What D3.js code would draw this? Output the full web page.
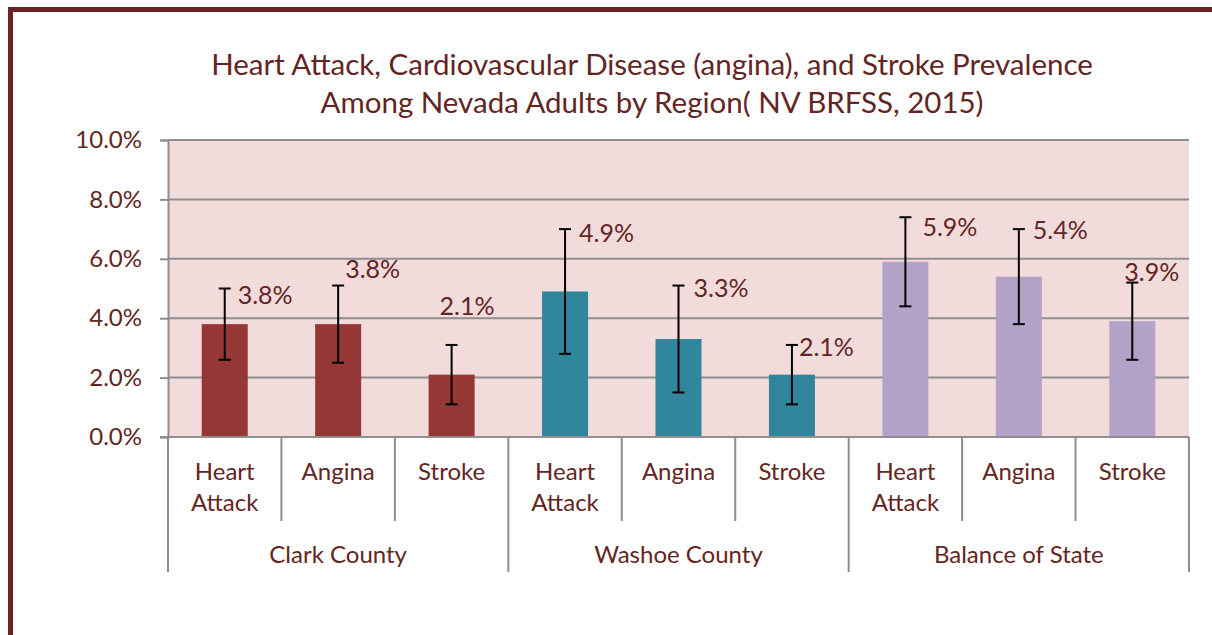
<!DOCTYPE html>
<html>
<head>
<meta charset="utf-8">
<script src="https://cdn.jsdelivr.net/npm/d3@7"></script>
<style>
  html, body { margin: 0; padding: 0; background: #fff; }
  svg { display: block; font-family: Lato, "Open Sans", sans-serif; }
</style>
</head>
<body>
<svg id="chart" width="1212" height="635"></svg>
<script>
// ---- data ----
const regions = ["Clark County", "Washoe County", "Balance of State"];
const conditions = ["Heart Attack", "Angina", "Stroke"];
const regionColors = ["#953735", "#31859C", "#B3A2C7"];
const clarkValues   = [3.8, 3.8, 2.1];
const washoeValues  = [4.9, 3.3, 2.1];
const balanceValues = [5.9, 5.4, 3.9];
const clarkLow   = [2.6, 2.5, 1.1];
const clarkHigh  = [5.0, 5.1, 3.1];
const washoeLow  = [2.8, 1.5, 1.1];
const washoeHigh = [7.0, 5.1, 3.1];
const balanceLow  = [4.4, 3.8, 2.6];
const balanceHigh = [7.4, 7.0, 5.2];
const yTicks = [0, 2, 4, 6, 8, 10];
const titleLines = ["Heart Attack, Cardiovascular Disease (angina), and Stroke Prevalence",
                    "Among Nevada Adults by Region( NV BRFSS, 2015)"];

// label placement (manually placed in the original): x offset px from bar centre, y in data units
const labelPlacement = [
  [13, 4.78], [7, 5.66], [-12, 4.41],
  [14, 6.85], [15, 5.02], [7, 3.03],
  [17, 7.07], [14, 6.97], [-8, 5.56]
];

const valuesByRegion = [clarkValues, washoeValues, balanceValues];
const lowByRegion = [clarkLow, washoeLow, balanceLow];
const highByRegion = [clarkHigh, washoeHigh, balanceHigh];
const rows = [];
regions.forEach((r, ri) => conditions.forEach((c, ci) => {
  rows.push({ key: r + "|" + c, region: r, ri, cond: c,
    value: valuesByRegion[ri][ci], lo: lowByRegion[ri][ci], hi: highByRegion[ri][ci] });
}));

// ---- layout ----
const textCol = "#632523";
const gridCol = "#8e8e8e";
const pLeft = 168, pRight = 1189, pTop = 140, pBottom = 437;

const svg = d3.select("#chart");

// frame
svg.append("path")
  .attr("d", "M10.5,640 L10.5,9.5 L1215,9.5")
  .attr("fill", "none").attr("stroke", "#6b2222").attr("stroke-width", 5);

const x = d3.scaleBand().domain(rows.map(d => d.key)).range([pLeft, pRight]).paddingInner(0).paddingOuter(0);
const y = d3.scaleLinear().domain([0, 10]).range([pBottom, pTop]);
const barW = 46;

// plot background
svg.append("rect").attr("x", pLeft).attr("y", pTop).attr("width", pRight - pLeft).attr("height", pBottom - pTop)
  .attr("fill", "#F2DCDB");

// gridlines + y ticks
const yAxis = d3.axisLeft(y).tickValues(yTicks).tickSize(8).tickFormat(d => d.toFixed(1) + "%");
const gy = svg.append("g").attr("transform", `translate(${pLeft},0)`).call(yAxis);
gy.select(".domain").attr("stroke", gridCol).attr("stroke-width", 2);
gy.selectAll(".tick line").attr("stroke", gridCol).attr("stroke-width", 2);
gy.selectAll(".tick text").attr("fill", textCol).style("font-size", "24px").attr("x", -26)
  .style("font-family", "Lato, sans-serif");
svg.append("g").selectAll("line").data(yTicks.filter(t => t > 0)).join("line")
  .attr("x1", pLeft).attr("x2", pRight).attr("y1", d => y(d)).attr("y2", d => y(d))
  .attr("stroke", gridCol).attr("stroke-width", 2);

// bars
svg.append("g").selectAll("rect").data(rows).join("rect")
  .attr("x", d => x(d.key) + x.bandwidth() / 2 - barW / 2)
  .attr("width", barW)
  .attr("y", d => y(d.value))
  .attr("height", d => y(0) - y(d.value))
  .attr("fill", d => regionColors[d.ri]);

// x axis base line
svg.append("line").attr("x1", pLeft - 8).attr("x2", pRight).attr("y1", pBottom).attr("y2", pBottom)
  .attr("stroke", gridCol).attr("stroke-width", 2);

// error bars
const eb = svg.append("g").attr("stroke", "#000").attr("stroke-width", 2);
rows.forEach(d => {
  const cx = x(d.key) + x.bandwidth() / 2;
  eb.append("line").attr("x1", cx).attr("x2", cx).attr("y1", y(d.lo)).attr("y2", y(d.hi));
  eb.append("line").attr("x1", cx - 6).attr("x2", cx + 6).attr("y1", y(d.lo)).attr("y2", y(d.lo));
  eb.append("line").attr("x1", cx - 6).attr("x2", cx + 6).attr("y1", y(d.hi)).attr("y2", y(d.hi));
});

// value labels
svg.append("g").selectAll("text").data(rows).join("text")
  .attr("x", (d, i) => x(d.key) + x.bandwidth() / 2 + labelPlacement[i][0])
  .attr("y", (d, i) => y(labelPlacement[i][1]))
  .attr("dy", "0.35em")
  .attr("fill", textCol).style("font-size", "25px")
  .text(d => d.value.toFixed(1) + "%");

// category dividers
const bounds = rows.map(d => x(d.key)).concat([pRight]);
svg.append("g").selectAll("line").data(bounds).join("line")
  .attr("x1", d => d).attr("x2", d => d)
  .attr("y1", pBottom).attr("y2", (d, i) => (i % 3 === 0) ? 572 : 521)
  .attr("stroke", gridCol).attr("stroke-width", 2);

// category labels
const catG = svg.append("g").attr("fill", textCol).style("font-size", "24px").attr("text-anchor", "middle");
rows.forEach(d => {
  const cx = x(d.key) + x.bandwidth() / 2;
  const words = d.cond === "Heart Attack" ? ["Heart", "Attack"] : [d.cond];
  words.forEach((w, k) => {
    catG.append("text").attr("x", cx).attr("y", 472 + k * 31).attr("dy", "0.35em").text(w);
  });
});

// region labels
const regW = (pRight - pLeft) / regions.length;
svg.append("g").selectAll("text").data(regions).join("text")
  .attr("x", (d, i) => pLeft + regW * (i + 0.5)).attr("y", 555).attr("dy", "0.35em")
  .attr("text-anchor", "middle").attr("fill", textCol).style("font-size", "24px")
  .text(d => d);

// title
svg.append("g").selectAll("text").data(titleLines).join("text")
  .attr("x", 652).attr("y", (d, i) => 65 + i * 38).attr("dy", "0.35em")
  .attr("text-anchor", "middle").attr("fill", textCol).style("font-size", "29.5px")
  .text(d => d);
</script>
</body>
</html>
